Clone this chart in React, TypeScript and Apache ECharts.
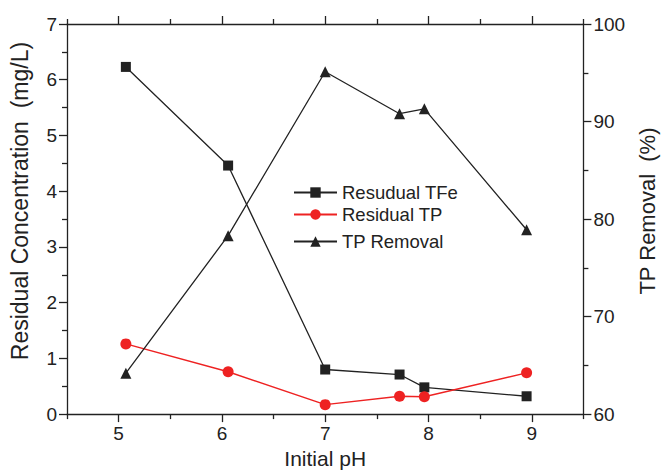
import React, { useEffect, useRef } from "react";
import * as echarts from "echarts";

const pH = [5.07, 6.06, 7.0, 7.72, 7.96, 8.95];
const residualTFe = [6.23, 4.46, 0.8, 0.71, 0.48, 0.32];
const residualTP = [1.26, 0.76, 0.17, 0.32, 0.31, 0.74];
const tpRemoval = [64.2, 78.3, 95.1, 90.8, 91.3, 78.9];
const xMajorTicks = [5, 6, 7, 8, 9];
const xMinorTicks = [4.5, 5.5, 6.5, 7.5, 8.5, 9.5];

const FONT = "'Liberation Sans', Arial, Helvetica, sans-serif";
const INK = "#222222";
const RED = "#ee2222";

export default function App() {
  const ref = useRef<HTMLDivElement>(null);
  useEffect(() => {
    if (!ref.current) return;
    const chart = echarts.init(ref.current, null, { renderer: "svg" });
    const axisLine = { show: true, lineStyle: { color: INK, width: 1.3 } };
    const xBase = { type: "value", min: 4.5, max: 9.5, gridIndex: 0, splitLine: { show: false } };
    const legendText = { fontSize: 18.5, color: INK, fontFamily: FONT };
    chart.setOption({
      animation: false,
      textStyle: { fontFamily: FONT },
      grid: { left: 67, right: 69, top: 24, bottom: 56, containLabel: false },
      xAxis: [
        {
          ...xBase,
          position: "bottom",
          name: "Initial pH",
          nameLocation: "middle",
          nameGap: 31,
          nameTextStyle: { fontSize: 21, color: INK, fontFamily: FONT },
          axisLine,
          axisTick: { show: true, length: 8, customValues: xMajorTicks, lineStyle: { color: INK, width: 1.3 } },
          axisLabel: { customValues: xMajorTicks, fontSize: 19, color: INK, margin: 10, fontFamily: FONT },
        },
        {
          ...xBase,
          position: "bottom",
          axisLine: { show: false },
          axisTick: { show: true, length: 5, customValues: xMinorTicks, lineStyle: { color: INK, width: 1.3 } },
          axisLabel: { show: false },
        },
        {
          ...xBase,
          position: "top",
          axisLine,
          axisTick: { show: true, length: 8, customValues: xMajorTicks, lineStyle: { color: INK, width: 1.3 } },
          axisLabel: { show: false },
        },
        {
          ...xBase,
          position: "top",
          axisLine: { show: false },
          axisTick: { show: true, length: 5, customValues: xMinorTicks, lineStyle: { color: INK, width: 1.3 } },
          axisLabel: { show: false },
        },
      ],
      yAxis: [
        {
          type: "value",
          position: "left",
          min: 0,
          max: 7,
          interval: 1,
          name: "Residual Concentration  (mg/L)",
          nameLocation: "middle",
          nameGap: 36,
          nameTextStyle: { fontSize: 23, color: INK, fontFamily: FONT, padding: [0, 0, 0, 36] },
          axisLine,
          axisTick: { show: true, length: 8, lineStyle: { color: INK, width: 1.3 } },
          minorTick: { show: true, splitNumber: 2, length: 5, lineStyle: { color: INK, width: 1.3 } },
          axisLabel: { fontSize: 19, color: INK, margin: 10, fontFamily: FONT },
          splitLine: { show: false },
        },
        {
          type: "value",
          position: "right",
          min: 60,
          max: 100,
          interval: 10,
          name: "TP Removal  (%)",
          nameLocation: "middle",
          nameGap: 43,
          nameRotate: 90,
          nameTextStyle: { fontSize: 22, color: INK, fontFamily: FONT, padding: [0, 0, 0, 16] },
          axisLine,
          axisTick: { show: true, length: 8, lineStyle: { color: INK, width: 1.3 } },
          minorTick: { show: true, splitNumber: 2, length: 5, lineStyle: { color: INK, width: 1.3 } },
          axisLabel: { fontSize: 19, color: INK, margin: 10, fontFamily: FONT },
          splitLine: { show: false },
        },
      ],
      legend: [
        { left: 293, top: 183, padding: 0, itemWidth: 43, itemHeight: 13, data: ["Resudual TFe"], textStyle: legendText },
        { left: 293, top: 205, padding: 0, itemWidth: 43, itemHeight: 13, data: ["Residual TP"], textStyle: legendText },
        { left: 293, top: 232, padding: 0, itemWidth: 43, itemHeight: 13, data: ["TP Removal"], textStyle: legendText },
      ],
      series: [
        {
          name: "Resudual TFe",
          type: "line",
          xAxisIndex: 0,
          yAxisIndex: 0,
          data: pH.map((x, i) => [x, residualTFe[i]]),
          symbol: "rect",
          symbolSize: 10,
          itemStyle: { color: INK },
          lineStyle: { color: INK, width: 1.3 },
        },
        {
          name: "Residual TP",
          type: "line",
          xAxisIndex: 0,
          yAxisIndex: 0,
          data: pH.map((x, i) => [x, residualTP[i]]),
          symbol: "circle",
          symbolSize: 11,
          itemStyle: { color: RED },
          lineStyle: { color: RED, width: 1.5 },
        },
        {
          name: "TP Removal",
          type: "line",
          xAxisIndex: 0,
          yAxisIndex: 1,
          data: pH.map((x, i) => [x, tpRemoval[i]]),
          symbol: "triangle",
          symbolSize: 11,
          itemStyle: { color: INK },
          lineStyle: { color: INK, width: 1.3 },
        },
      ],
    });
    return () => chart.dispose();
  }, []);
  return (
    <div
      ref={ref}
      style={{ position: "absolute", left: 0, top: 0, width: 666, height: 474, background: "#fff" }}
    />
  );
}
